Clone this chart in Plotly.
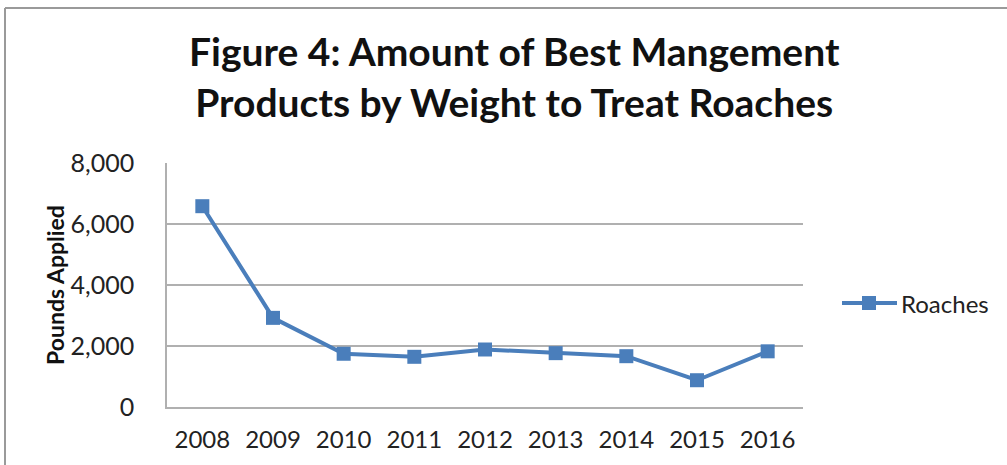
import plotly.graph_objects as go

years = ["2008", "2009", "2010", "2011", "2012", "2013", "2014", "2015", "2016"]
roaches = [6600, 2930, 1750, 1650, 1890, 1770, 1670, 880, 1830]
y_ticks = [0, 2000, 4000, 6000, 8000]
y_tick_labels = ["0", "2,000", "4,000", "6,000", "8,000"]
series_name = "Roaches"

W, H = 1007, 465
L, R, T, B = 167, 803, 163, 407

def px(x):
    return (x - L) / (R - L)

def py(y):
    return (B - y) / (B - T)

blue = "#4a7ebb"
grid = "#b0b0b0"
font_fam = "Lato, 'Liberation Sans', sans-serif"

fig = go.Figure()
fig.add_trace(go.Scatter(
    x=years, y=roaches, mode="lines+markers", name=series_name,
    line=dict(color=blue, width=4),
    marker=dict(symbol="square", size=14, color=blue),
    showlegend=False,
))

fig.update_layout(
    width=W, height=H,
    margin=dict(l=L, r=W - R, t=T, b=H - B, pad=0, autoexpand=False),
    paper_bgcolor="white", plot_bgcolor="white",
    font=dict(family=font_fam, color="#222222"),
    showlegend=False,
    xaxis=dict(type="category", range=[-0.5, 8.5], showgrid=False, automargin=False,
               showline=True, linecolor=grid, linewidth=1.5, zeroline=False, ticks="",
               tickfont=dict(size=24, color="#222222"), ticklabelstandoff=10),
    yaxis=dict(range=[0, 8020], tickvals=y_ticks, ticktext=y_tick_labels, automargin=False,
               showgrid=True, gridcolor=grid, gridwidth=1.5,
               zeroline=False, showline=True, linecolor=grid, linewidth=1.5, ticks="",
               tickfont=dict(size=25, color="#222222"), ticklabelstandoff=26,
               title=dict(text="<b>Pounds Applied</b>", font=dict(size=23, color="#111111"),
                          standoff=0)),
)

fig.add_annotation(
    xref="paper", yref="paper", x=px(514), y=py(76),
    text="<b>Figure 4: Amount of Best Mangement<br>Products by Weight to Treat Roaches</b>",
    showarrow=False, xanchor="center", yanchor="middle",
    font=dict(size=39, color="#111111", family=font_fam),
)

# manual legend
fig.add_shape(type="line", xref="paper", yref="paper",
              x0=px(842), x1=px(897), y0=py(303), y1=py(303),
              line=dict(color=blue, width=4))
fig.add_shape(type="rect", xref="paper", yref="paper",
              x0=px(862), x1=px(876), y0=py(310), y1=py(296),
              line=dict(width=0), fillcolor=blue)
fig.add_annotation(
    xref="paper", yref="paper", x=px(899), y=py(303), text=series_name,
    showarrow=False, xanchor="left", yanchor="middle",
    font=dict(size=24, color="#222222", family=font_fam),
)

# frame border (left and top edges visible)
fig.add_shape(type="line", xref="paper", yref="paper",
              x0=px(5), x1=px(5), y0=py(470), y1=py(8),
              line=dict(color="#9a9a9a", width=2))
fig.add_shape(type="line", xref="paper", yref="paper",
              x0=px(5), x1=px(1010), y0=py(8), y1=py(8),
              line=dict(color="#9a9a9a", width=2))

fig.write_html("out.html", config={"displayModeBar": False},
               post_script="document.body.style.margin='0';document.body.style.overflow='hidden';")
